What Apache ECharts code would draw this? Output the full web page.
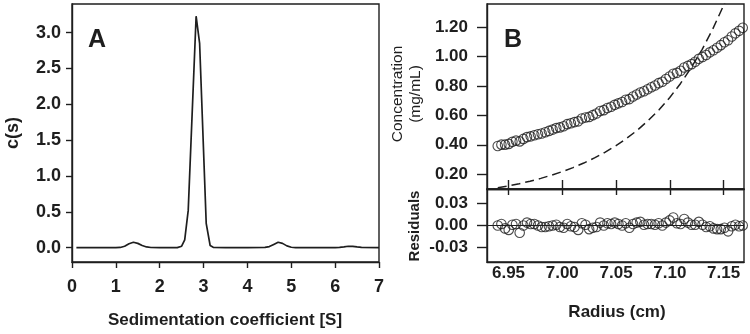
<!DOCTYPE html>
<html>
<head>
<meta charset="utf-8">
<script src="https://cdn.jsdelivr.net/npm/echarts@6/dist/echarts.min.js"></script>
<style>
  html, body { margin: 0; padding: 0; background: #fff; }
  #chart { width: 750px; height: 334px; }
</style>
</head>
<body>
<div id="chart"></div>
<script>
// panel A: c(s) distribution
const sedS = [0.1, 0.5, 1.0, 1.1, 1.2, 1.3, 1.4, 1.5, 1.6, 1.7, 1.8, 2.0, 2.4, 2.5, 2.57, 2.65, 2.83, 2.91, 3.06, 3.15, 3.22, 3.5, 4.0, 4.4, 4.5, 4.6, 4.7, 4.8, 4.9, 5.0, 5.1, 5.5, 6.0, 6.1, 6.2, 6.3, 6.4, 6.5, 6.6, 7.0]
const cs = [0, 0, 0, 0.003, 0.02, 0.055, 0.075, 0.06, 0.03, 0.01, 0.002, 0, 0, 0.02, 0.11, 0.52, 3.23, 2.85, 0.34, 0.03, 0.005, 0, 0, 0.003, 0.015, 0.045, 0.075, 0.06, 0.025, 0.006, 0, 0, 0, 0.005, 0.012, 0.02, 0.018, 0.01, 0.003, 0]
const csTicks = [0, 0.5, 1.0, 1.5, 2.0, 2.5, 3.0]

// panel B: radial scan, residuals, dashed curve
const radius = [6.9400, 6.9434, 6.9468, 6.9502, 6.9536, 6.9570, 6.9604, 6.9638, 6.9672, 6.9706,
  6.9740, 6.9774, 6.9808, 6.9842, 6.9876, 6.9910, 6.9944, 6.9978, 7.0012, 7.0046,
  7.0080, 7.0114, 7.0148, 7.0182, 7.0216, 7.0250, 7.0284, 7.0318, 7.0352, 7.0386,
  7.0420, 7.0454, 7.0488, 7.0522, 7.0556, 7.0590, 7.0624, 7.0658, 7.0692, 7.0726,
  7.0760, 7.0794, 7.0828, 7.0862, 7.0896, 7.0930, 7.0964, 7.0998, 7.1032, 7.1066,
  7.1100, 7.1134, 7.1168, 7.1202, 7.1236, 7.1270, 7.1304, 7.1338, 7.1372, 7.1406,
  7.1440, 7.1474, 7.1508, 7.1542, 7.1576, 7.1610, 7.1644, 7.1678]
const conc = [0.392, 0.401, 0.401, 0.406, 0.420, 0.428, 0.423, 0.440, 0.452, 0.457,
  0.465, 0.471, 0.477, 0.485, 0.494, 0.503, 0.513, 0.518, 0.526, 0.540,
  0.546, 0.554, 0.559, 0.578, 0.585, 0.589, 0.601, 0.612, 0.629, 0.635,
  0.649, 0.658, 0.671, 0.681, 0.690, 0.705, 0.710, 0.727, 0.741, 0.755,
  0.763, 0.777, 0.790, 0.802, 0.818, 0.828, 0.846, 0.863, 0.882, 0.888,
  0.902, 0.924, 0.935, 0.947, 0.963, 0.983, 0.995, 1.009, 1.027, 1.041,
  1.058, 1.076, 1.096, 1.109, 1.135, 1.156, 1.173, 1.194]
const resid = [0.000, 0.002, -0.004, -0.006, 0.001, 0.002, -0.010, 0.000, 0.004, 0.002,
  0.002, 0.000, -0.002, -0.002, -0.001, 0.000, 0.001, -0.002, -0.003, 0.002,
  -0.001, -0.002, -0.006, 0.003, 0.001, -0.005, -0.003, -0.002, 0.004, 0.000,
  0.003, 0.002, 0.004, 0.002, 0.000, 0.003, -0.003, 0.002, 0.004, 0.005,
  0.001, 0.002, 0.002, 0.001, 0.003, 0.000, 0.004, 0.007, 0.011, 0.003,
  0.002, 0.009, 0.004, 0.001, 0.001, 0.005, 0.001, -0.002, -0.001, -0.004,
  -0.005, -0.005, -0.003, -0.008, -0.001, 0.001, -0.001, 0.000]
const dashR = [6.940, 6.950, 6.960, 6.970, 6.980, 6.990, 7.000, 7.010, 7.020, 7.030, 7.040, 7.050, 7.060, 7.070, 7.080, 7.090, 7.100, 7.110, 7.120, 7.130, 7.140, 7.150, 7.155]
const dashC = [0.108, 0.121, 0.136, 0.153, 0.172, 0.194, 0.218, 0.245, 0.276, 0.311, 0.350, 0.394, 0.444, 0.500, 0.565, 0.638, 0.721, 0.816, 0.924, 1.046, 1.186, 1.345, 1.432]
const radiusTicks = [6.95, 7.00, 7.05, 7.10, 7.15]
const concTicks = [0.2, 0.4, 0.6, 0.8, 1.0, 1.2]
const residTicks = [-0.03, 0, 0.03]

const ink = '#1e1e1e'
const font = '"Liberation Sans", Arial, sans-serif'

const chart = echarts.init(document.getElementById('chart'), null, { renderer: 'canvas' })

// common axis look
function axisBase(extra) {
  return Object.assign({
    type: 'value',
    splitLine: { show: false },
    axisLine: { show: true, onZero: false, lineStyle: { color: ink, width: 1.4 } },
    axisTick: { show: true, lineStyle: { color: ink, width: 1.4 } },
    axisLabel: { color: ink, fontSize: 17, fontWeight: 'bold', fontFamily: font }
  }, extra)
}

const option = {
  animation: false,
  backgroundColor: '#fff',
  grid: [
    { left: 72, top: 4, width: 307, height: 258, show: true, borderColor: ink, borderWidth: 1.4 },
    { left: 487, top: 4, width: 257, height: 185, show: true, borderColor: ink, borderWidth: 1.4 },
    { left: 487, top: 189, width: 257, height: 73, show: true, borderColor: ink, borderWidth: 1.4 }
  ],
  xAxis: [
    axisBase({
      gridIndex: 0, min: 0, max: 7, interval: 1,
      axisTick: { show: true, length: 6, lineStyle: { color: ink, width: 1.4 } },
      axisLabel: { color: ink, fontSize: 18, fontWeight: 'bold', fontFamily: font, margin: 16, showMaxLabel: true }
    }),
    axisBase({
      gridIndex: 1, min: 6.93, max: 7.169,
      axisTick: { show: true, inside: true, length: 9, customValues: radiusTicks, lineStyle: { color: ink, width: 1.4 } },
      axisLabel: { show: false }
    }),
    axisBase({
      gridIndex: 2, min: 6.93, max: 7.169,
      axisTick: { show: false },
      axisLabel: {
        color: ink, fontSize: 17, fontWeight: 'bold', fontFamily: font, margin: 3,
        customValues: radiusTicks, formatter: v => v.toFixed(2)
      }
    }),
    axisBase({
      gridIndex: 2, min: 6.93, max: 7.169, position: 'top',
      axisTick: { show: true, inside: true, length: 6, customValues: radiusTicks, lineStyle: { color: ink, width: 1.4 } },
      axisLabel: { show: false }
    })
  ],
  yAxis: [
    axisBase({
      gridIndex: 0, min: -0.2, max: 3.4,
      axisTick: { show: true, length: 6, customValues: csTicks, lineStyle: { color: ink, width: 1.4 } },
      axisLabel: {
        color: ink, fontSize: 18, fontWeight: 'bold', fontFamily: font, margin: 11,
        customValues: csTicks, formatter: v => v.toFixed(1)
      }
    }),
    axisBase({
      gridIndex: 1, min: 0.1, max: 1.355,
      axisTick: { show: true, length: 10, customValues: concTicks, lineStyle: { color: ink, width: 1.4 } },
      axisLabel: {
        color: ink, fontSize: 17, fontWeight: 'bold', fontFamily: font, margin: 19,
        customValues: concTicks, formatter: v => v.toFixed(2)
      }
    }),
    axisBase({
      gridIndex: 2, min: -0.05, max: 0.05,
      axisTick: { show: true, length: 10, customValues: residTicks, lineStyle: { color: ink, width: 1.4 } },
      axisLabel: {
        color: ink, fontSize: 17, fontWeight: 'bold', fontFamily: font, margin: 19,
        customValues: residTicks, formatter: v => v.toFixed(2)
      }
    })
  ],
  series: [
    {
      type: 'line', xAxisIndex: 0, yAxisIndex: 0,
      data: sedS.map((s, i) => [s, cs[i]]),
      showSymbol: false,
      lineStyle: { color: ink, width: 1.7 }
    },
    {
      type: 'line', xAxisIndex: 1, yAxisIndex: 1,
      data: dashR.map((r, i) => [r, dashC[i]]),
      showSymbol: false,
      lineStyle: { color: ink, width: 1.5, type: [9, 5] }
    },
    {
      type: 'scatter', xAxisIndex: 1, yAxisIndex: 1,
      data: radius.map((r, i) => [r, conc[i]]),
      symbol: 'circle', symbolSize: 9.5,
      itemStyle: { color: 'rgba(0,0,0,0)', borderColor: ink, borderWidth: 1.1 }
    },
    {
      type: 'scatter', xAxisIndex: 2, yAxisIndex: 2,
      data: radius.map((r, i) => [r, resid[i]]),
      symbol: 'circle', symbolSize: 9.5,
      itemStyle: { color: 'rgba(0,0,0,0)', borderColor: ink, borderWidth: 1.1 },
      markLine: {
        silent: true, symbol: 'none', label: { show: false },
        lineStyle: { color: ink, width: 1, type: 'solid' },
        data: [{ yAxis: 0 }]
      }
    }
  ],
  graphic: [
    { type: 'text', left: 88, top: 28, style: { text: 'A', font: 'bold 25px ' + font, fill: ink } },
    { type: 'text', left: 504, top: 28, style: { text: 'B', font: 'bold 25px ' + font, fill: ink } },
    { type: 'text', x: 225, y: 320, style: { text: 'Sedimentation coefficient [S]', font: 'bold 17px ' + font, fill: ink, align: 'center', verticalAlign: 'middle' } },
    { type: 'text', x: 13, y: 133, rotation: Math.PI / 2, style: { text: 'c(s)', font: 'bold 18px ' + font, fill: ink, align: 'center', verticalAlign: 'middle' } },
    { type: 'text', x: 617, y: 312, style: { text: 'Radius (cm)', font: 'bold 17px ' + font, fill: ink, align: 'center', verticalAlign: 'middle' } },
    { type: 'text', x: 398, y: 94, rotation: Math.PI / 2, style: { text: 'Concentration', font: '15.5px ' + font, fill: ink, align: 'center', verticalAlign: 'middle' } },
    { type: 'text', x: 416, y: 94, rotation: Math.PI / 2, style: { text: '(mg/mL)', font: '15.5px ' + font, fill: ink, align: 'center', verticalAlign: 'middle' } },
    { type: 'text', x: 415, y: 226, rotation: Math.PI / 2, style: { text: 'Residuals', font: 'bold 15px ' + font, fill: ink, align: 'center', verticalAlign: 'middle' } }
  ]
}

chart.setOption(option)
</script>
</body>
</html>
